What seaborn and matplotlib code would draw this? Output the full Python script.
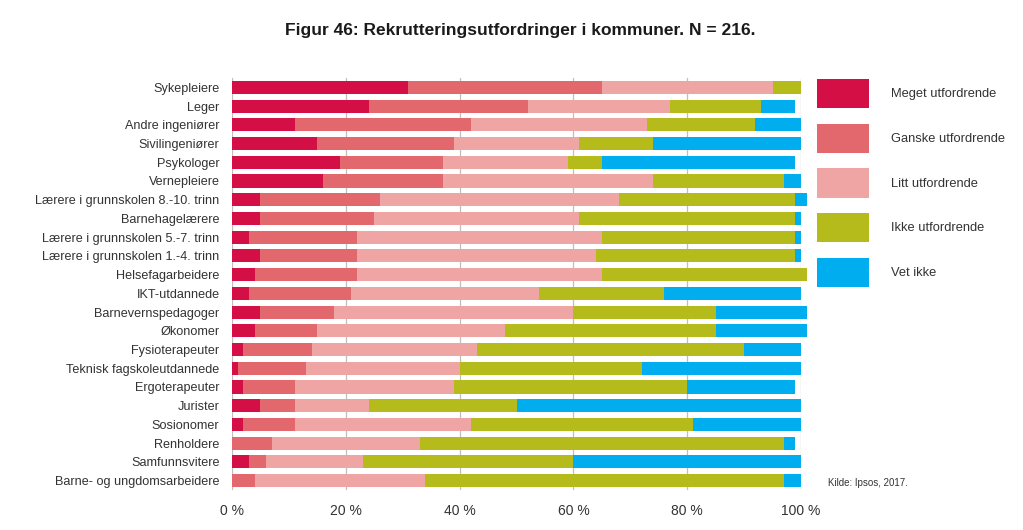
import matplotlib
matplotlib.use("Agg")
import matplotlib.pyplot as plt
from matplotlib.patches import Patch
import seaborn as sns
import pandas as pd
import numpy as np

categories = [
    "Sykepleiere", "Leger", "Andre ingeniører", "Sivilingeniører", "Psykologer",
    "Vernepleiere", "Lærere i grunnskolen 8.-10. trinn", "Barnehagelærere",
    "Lærere i grunnskolen 5.-7. trinn", "Lærere i grunnskolen 1.-4. trinn",
    "Helsefagarbeidere", "IKT-utdannede", "Barnevernspedagoger", "Økonomer",
    "Fysioterapeuter", "Teknisk fagskoleutdannede", "Ergoterapeuter", "Jurister",
    "Sosionomer", "Renholdere", "Samfunnsvitere", "Barne- og ungdomsarbeidere",
]
meget  = [31, 24, 11, 15, 19, 16, 5, 5, 3, 5, 4, 3, 5, 4, 2, 1, 2, 5, 2, 0, 3, 0]
ganske = [34, 28, 31, 24, 18, 21, 21, 20, 19, 17, 18, 18, 13, 11, 12, 12, 9, 6, 9, 7, 3, 4]
litt   = [30, 25, 31, 22, 22, 37, 42, 36, 43, 42, 43, 33, 42, 33, 29, 27, 28, 13, 31, 26, 17, 30]
ikke   = [5, 16, 19, 13, 6, 23, 31, 38, 34, 35, 36, 22, 25, 37, 47, 32, 41, 26, 39, 64, 37, 63]
vet    = [0, 6, 8, 26, 34, 3, 2, 1, 1, 1, 0, 24, 16, 16, 10, 28, 19, 50, 19, 2, 40, 3]

series_names = ["Meget utfordrende", "Ganske utfordrende", "Litt utfordrende",
                "Ikke utfordrende", "Vet ikke"]
colors = ["#D40F45", "#E2686E", "#EFA5A4", "#B5BB1B", "#00AEEF"]
x_ticks = [0, 20, 40, 60, 80, 100]
x_ticklabels = ["0 %", "20 %", "40 %", "60 %", "80 %", "100 %"]

df = pd.DataFrame({"cat": categories, series_names[0]: meget, series_names[1]: ganske,
                   series_names[2]: litt, series_names[3]: ikke, series_names[4]: vet})
cum = df[series_names].cumsum(axis=1)

sns.set_theme(style="white")
plt.rcParams["font.family"] = ["Liberation Sans", "DejaVu Sans"]

fig = plt.figure(figsize=(10.23, 5.30), dpi=100)
ax = fig.add_axes([232/1023, 1-490/530, (801-232)/1023, (490-78)/530])

for i in range(len(series_names) - 1, -1, -1):
    sns.barplot(x=cum[series_names[i]], y=df["cat"], orient="h", color=colors[i],
                width=0.7, ax=ax, saturation=1, linewidth=0, order=categories)

for p in ax.patches:
    p.set_clip_on(False)

ax.set_xlim(0, 100)
ax.set_ylim(len(categories) - 0.5, -0.5)
ax.set_xticks(x_ticks)
ax.set_xticklabels(x_ticklabels, color="#333333", fontsize=10)
ax.tick_params(axis="x", length=0, pad=10)
ax.tick_params(axis="y", length=0, pad=9, labelsize=9.1, labelcolor="#333333")
ax.set_xlabel("")
ax.set_ylabel("")
for s in ax.spines.values():
    s.set_visible(False)
for xv in x_ticks:
    ax.axvline(xv, color="#BFBFBF", linewidth=0.9, zorder=0)

handles = [Patch(facecolor=c, edgecolor="none") for c in colors]
fig.legend(handles, series_names, loc="upper left",
           bbox_to_anchor=(817/1023, 1-79/530), frameon=False, fontsize=9.3,
           handlelength=4.0, handleheight=3.1, labelspacing=1.2,
           handletextpad=1.7, borderpad=0, borderaxespad=0, labelcolor="#333333")

fig.text(520/1023, 1-30/530, "Figur 46: Rekrutteringsutfordringer i kommuner. N = 216.",
         ha="center", va="center", fontsize=12.5, fontweight="bold", color="#1a1a1a")
fig.text(828/1023, 1-483/530, "Kilde: Ipsos, 2017.", ha="left", va="center",
         fontsize=7, color="#333333")

fig.savefig("out.png", dpi=100)
